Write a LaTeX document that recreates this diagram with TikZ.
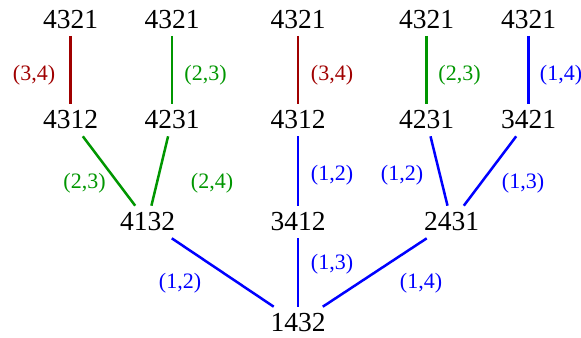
\documentclass[tikz,border=0pt]{standalone}
\usepackage{fontspec}
\setmainfont{Liberation Serif}
\definecolor{swapred}{RGB}{160,0,0}
\definecolor{swapgreen}{RGB}{0,150,0}
\definecolor{swapblue}{RGB}{0,0,255}

\begin{document}
\begin{tikzpicture}[x=0.5pt,y=-0.5pt,
    perm/.style={font=\fontsize{13.75}{16}\selectfont},
    swap/.style={inner sep=1pt,font=\fontsize{11}{13}\selectfont},
    link/.style={line width=1.25pt}]
      \useasboundingbox (0,0) rectangle (581,337);
      % top row
      \node[perm] (t1) at (70.5,19.5) {4321};
      \node[perm] (t2) at (172,19.5) {4321};
      \node[perm] (t3) at (298,19.5) {4321};
      \node[perm] (t4) at (426.5,19.5) {4321};
      \node[perm] (t5) at (528.5,19.5) {4321};
      % second row
      \node[perm] (m1) at (70.5,120) {4312};
      \node[perm] (m2) at (172,120) {4231};
      \node[perm] (m3) at (298,120) {4312};
      \node[perm] (m4) at (426.5,120) {4231};
      \node[perm] (m5) at (528.5,120) {3421};
      % third row
      \node[perm] (b1) at (147.5,222) {4132};
      \node[perm] (b2) at (298,222) {3412};
      \node[perm] (b3) at (451.5,222) {2431};
      % root
      \node[perm] (r) at (298,323) {1432};

      \draw[link,swapred] (t1) -- (m1);
      \draw[link,swapgreen] (t2) -- (m2);
      \draw[link,swapred] (t3) -- (m3);
      \draw[link,swapgreen] (t4) -- (m4);
      \draw[link,swapblue] (t5) -- (m5);
      \draw[link,swapgreen] (m1) -- (b1);
      \draw[link,swapgreen] (m2) -- (b1);
      \draw[link,swapblue] (m3) -- (b2);
      \draw[link,swapblue] (m4) -- (b3);
      \draw[link,swapblue] (m5) -- (b3);
      \draw[link,swapblue] (b1) -- (r);
      \draw[link,swapblue] (b2) -- (r);
      \draw[link,swapblue] (b3) -- (r);

      \node[swap,swapred] (s1) at (34,75) {(3,4)};
      \node[swap,swapgreen] (s2) at (205.5,75) {(2,3)};
      \node[swap,swapred] (s3) at (332,75) {(3,4)};
      \node[swap,swapgreen] (s4) at (459.5,75) {(2,3)};
      \node[swap,swapblue] (s5) at (561,75) {(1,4)};
      \node[swap,swapgreen] (s6) at (84.5,183) {(2,3)};
      \node[swap,swapgreen] (s7) at (212,183) {(2,4)};
      \node[swap,swapblue] (s8) at (332,175) {(1,2)};
      \node[swap,swapblue] (s9) at (402,175) {(1,2)};
      \node[swap,swapblue] (s10) at (523,183) {(1,3)};
      \node[swap,swapblue] (s11) at (180,283) {(1,2)};
      \node[swap,swapblue] (s12) at (332,264) {(1,3)};
      \node[swap,swapblue] (s13) at (421,283) {(1,4)};
\end{tikzpicture}
\end{document}
